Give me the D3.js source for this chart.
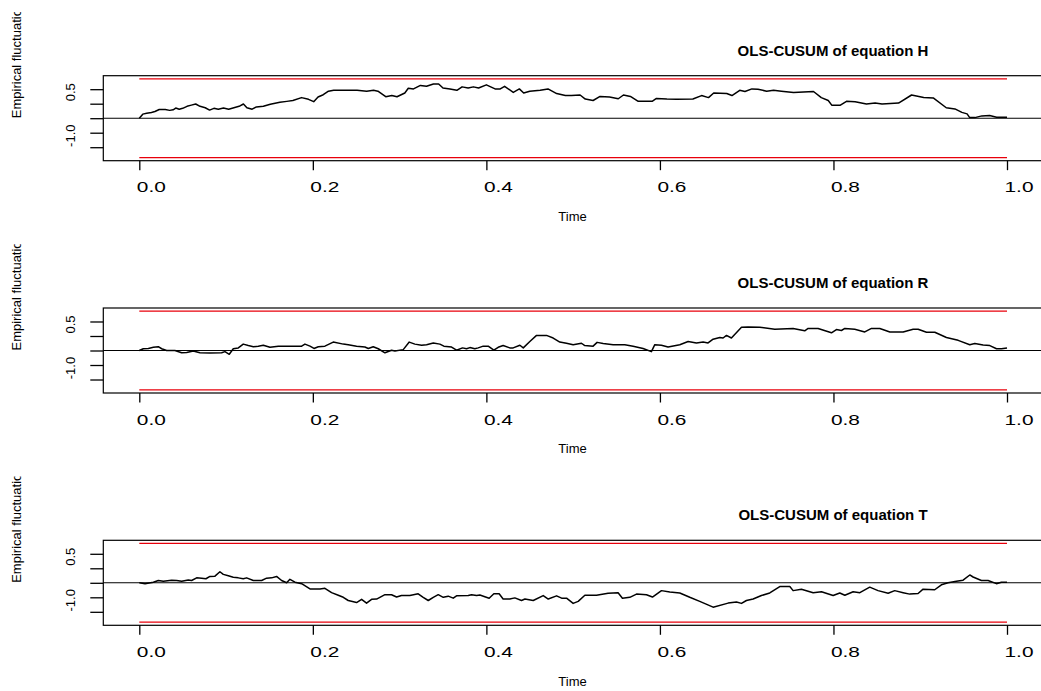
<!DOCTYPE html>
<html>
<head>
<meta charset="utf-8">
<title>OLS-CUSUM of equations H, R, T</title>
<script src="https://d3js.org/d3.v7.min.js"></script>
<style>
  body { margin: 0; background: #fff; }
  svg { display: block; font-family: "Liberation Sans", Arial, sans-serif; }
  .box { fill: none; stroke: #000; stroke-width: 1.2; }
  .bound { stroke: #e8000b; stroke-width: 1.3; }
  .zero { stroke: #000; stroke-width: 1.1; }
  .proc { fill: none; stroke: #000; stroke-width: 1.5; stroke-linejoin: round; }
  .tick line { stroke: #000; stroke-width: 1.3; }
</style>
</head>
<body>
<div id="chart"></div>
<script>
// empirical fluctuation processes (time, value)
const timeH = [0, 0.004, 0.0085, 0.014, 0.018, 0.023, 0.030, 0.035, 0.039, 0.042, 0.046, 0.050, 0.055, 0.060, 0.065, 0.070,
  0.076, 0.081, 0.086, 0.091, 0.097, 0.103, 0.108, 0.115, 0.120, 0.124, 0.130, 0.135, 0.143, 0.151, 0.162, 0.170,
  0.177, 0.187, 0.195, 0.201, 0.206, 0.212, 0.218, 0.224, 0.235, 0.251, 0.262, 0.270, 0.275, 0.284, 0.291, 0.297,
  0.306, 0.310, 0.316, 0.324, 0.331, 0.339, 0.345, 0.350, 0.358, 0.366, 0.372, 0.379, 0.385, 0.391, 0.400, 0.410,
  0.416, 0.421, 0.431, 0.438, 0.443, 0.450, 0.462, 0.471, 0.481, 0.491, 0.498, 0.508, 0.514, 0.523, 0.531, 0.542,
  0.552, 0.558, 0.566, 0.575, 0.591, 0.596, 0.608, 0.619, 0.638, 0.648, 0.656, 0.662, 0.677, 0.683, 0.692, 0.698,
  0.706, 0.713, 0.723, 0.731, 0.740, 0.754, 0.777, 0.786, 0.794, 0.798, 0.808, 0.815, 0.825, 0.838, 0.848, 0.856,
  0.875, 0.890, 0.904, 0.915, 0.930, 0.940, 0.948, 0.954, 0.957, 0.963, 0.971, 0.980, 0.988, 1.0];
const valueH = [0, 0.14, 0.17, 0.20, 0.23, 0.30, 0.30, 0.27, 0.29, 0.35, 0.31, 0.34, 0.41, 0.45, 0.49, 0.41,
  0.36, 0.28, 0.34, 0.31, 0.35, 0.31, 0.35, 0.41, 0.49, 0.36, 0.31, 0.39, 0.41, 0.48, 0.55, 0.58,
  0.61, 0.71, 0.65, 0.57, 0.73, 0.81, 0.93, 0.96, 0.96, 0.96, 0.93, 0.96, 0.93, 0.74, 0.78, 0.74,
  0.87, 1.03, 1.01, 1.13, 1.10, 1.18, 1.18, 1.04, 1.01, 0.96, 1.08, 1.04, 1.08, 1.04, 1.15, 1.01,
  1.01, 1.10, 0.89, 1.01, 0.87, 0.93, 0.96, 1.01, 0.85, 0.78, 0.78, 0.80, 0.66, 0.61, 0.75, 0.73,
  0.67, 0.80, 0.75, 0.58, 0.58, 0.68, 0.66, 0.65, 0.66, 0.78, 0.71, 0.87, 0.85, 0.78, 0.96, 0.92,
  1.01, 1.00, 0.93, 0.96, 0.93, 0.89, 0.92, 0.71, 0.61, 0.45, 0.45, 0.58, 0.57, 0.49, 0.52, 0.49,
  0.52, 0.80, 0.71, 0.70, 0.36, 0.32, 0.20, 0.15, 0.02, 0.02, 0.08, 0.09, 0.03, 0.03];

const timeR = [0, 0.0046, 0.0104, 0.0162, 0.0219, 0.0258, 0.0315, 0.0411, 0.0488, 0.0546, 0.0622, 0.0699, 0.0814,
  0.0949, 0.0987, 0.1037, 0.1083, 0.1141, 0.1198, 0.1256, 0.1314, 0.1371, 0.1429, 0.1506, 0.1602, 0.1736, 0.1871,
  0.1909, 0.1967, 0.2013, 0.2063, 0.2139, 0.2235, 0.2351, 0.2408, 0.2504, 0.2600, 0.2639, 0.2696, 0.2754, 0.2831,
  0.2907, 0.2946, 0.3042, 0.3111, 0.3176, 0.3253, 0.3311, 0.3388, 0.3464, 0.3510, 0.3599, 0.3656, 0.3725, 0.3771,
  0.3810, 0.3867, 0.3906, 0.3963, 0.4021, 0.4086, 0.4136, 0.4193, 0.4270, 0.4309, 0.4386, 0.4425, 0.4501, 0.4578,
  0.4693, 0.4770, 0.4846, 0.4923, 0.5000, 0.5096, 0.5134, 0.5230, 0.5276, 0.5346, 0.5461, 0.5595, 0.5691, 0.5806,
  0.5902, 0.5941, 0.6017, 0.6094, 0.6229, 0.6325, 0.6421, 0.6498, 0.6555, 0.6613, 0.6690, 0.6728, 0.6767, 0.6824,
  0.6940, 0.7016, 0.7151, 0.7324, 0.7535, 0.7669, 0.7708, 0.7823, 0.7977, 0.8034, 0.8092, 0.8131, 0.8246, 0.8361,
  0.8438, 0.8534, 0.8650, 0.8803, 0.8918, 0.8976, 0.9072, 0.9168, 0.9302, 0.9437, 0.9571, 0.9629, 0.9725, 0.9802,
  0.9879, 0.9936, 1.0];
const valueR = [0, 0.06, 0.07, 0.11, 0.13, 0.06, 0, 0, -0.08, -0.07, -0.02, -0.08, -0.09,
  -0.08, -0.04, -0.13, 0.06, 0.09, 0.22, 0.17, 0.13, 0.15, 0.18, 0.11, 0.15, 0.15, 0.15,
  0.22, 0.15, 0.07, 0.13, 0.15, 0.29, 0.22, 0.20, 0.15, 0.12, 0.07, 0.13, 0.06, -0.08,
  0.01, -0.02, 0.03, 0.29, 0.22, 0.18, 0.20, 0.26, 0.22, 0.15, 0.12, 0.01, 0.09, 0.06,
  0.10, 0.06, 0.09, 0.15, 0.15, 0.01, 0.11, 0.17, 0.09, 0.09, 0.18, 0.09, 0.31, 0.52,
  0.52, 0.43, 0.29, 0.25, 0.20, 0.25, 0.17, 0.15, 0.28, 0.24, 0.20, 0.20, 0.15, 0.07,
  -0.04, 0.20, 0.18, 0.12, 0.20, 0.31, 0.26, 0.29, 0.26, 0.39, 0.45, 0.43, 0.52, 0.43,
  0.80, 0.81, 0.80, 0.73, 0.76, 0.68, 0.76, 0.76, 0.61, 0.72, 0.69, 0.76, 0.73, 0.64,
  0.76, 0.76, 0.64, 0.64, 0.73, 0.73, 0.63, 0.63, 0.45, 0.35, 0.20, 0.24, 0.19, 0.17,
  0.06, 0.06, 0.09];

const timeT = [0, 0.0066, 0.0162, 0.0219, 0.0277, 0.0373, 0.0430, 0.0488, 0.0565, 0.0603, 0.0661, 0.0718, 0.0768,
  0.0814, 0.0872, 0.0929, 0.0968, 0.1026, 0.1083, 0.1141, 0.1198, 0.1237, 0.1314, 0.1410, 0.1467, 0.1525, 0.1582,
  0.1640, 0.1698, 0.1736, 0.1794, 0.1871, 0.1967, 0.2082, 0.2139, 0.2216, 0.2293, 0.2351, 0.2408, 0.2504, 0.2562,
  0.2619, 0.2677, 0.2735, 0.2831, 0.2907, 0.2965, 0.3022, 0.3118, 0.3214, 0.3272, 0.3330, 0.3388, 0.3445, 0.3503,
  0.3560, 0.3618, 0.3656, 0.3791, 0.3829, 0.3887, 0.3925, 0.3982, 0.4032, 0.4086, 0.4147, 0.4193, 0.4270, 0.4328,
  0.4405, 0.4444, 0.4540, 0.4655, 0.4713, 0.4809, 0.4867, 0.4924, 0.5000, 0.5058, 0.5135, 0.5269, 0.5403, 0.5518,
  0.5568, 0.5653, 0.5730, 0.5845, 0.5914, 0.6018, 0.6114, 0.6229, 0.6344, 0.6459, 0.6613, 0.6786, 0.6882, 0.6940,
  0.6997, 0.7074, 0.7170, 0.7266, 0.7381, 0.7497, 0.7535, 0.7631, 0.7766, 0.7862, 0.7996, 0.8073, 0.8131, 0.8227,
  0.8304, 0.8418, 0.8514, 0.8630, 0.8706, 0.8803, 0.8879, 0.8975, 0.9033, 0.9167, 0.9244, 0.9321, 0.9417, 0.9494,
  0.9571, 0.9609, 0.9705, 0.9782, 0.9878, 0.9935, 1.0];
const valueT = [0, -0.03, 0.02, 0.08, 0.05, 0.09, 0.08, 0.05, 0.10, 0.08, 0.17, 0.16, 0.14,
  0.22, 0.23, 0.38, 0.29, 0.24, 0.19, 0.17, 0.14, 0.17, 0.08, 0.08, 0.16, 0.17, 0.22,
  0.08, 0.00, 0.12, 0.02, -0.03, -0.21, -0.21, -0.19, -0.34, -0.43, -0.50, -0.61, -0.68, -0.57,
  -0.70, -0.57, -0.56, -0.41, -0.41, -0.49, -0.44, -0.44, -0.38, -0.50, -0.61, -0.50, -0.41, -0.50,
  -0.46, -0.53, -0.45, -0.44, -0.41, -0.44, -0.42, -0.48, -0.53, -0.38, -0.38, -0.56, -0.56, -0.52,
  -0.61, -0.56, -0.61, -0.44, -0.56, -0.45, -0.53, -0.53, -0.71, -0.64, -0.43, -0.43, -0.36, -0.34,
  -0.53, -0.50, -0.39, -0.41, -0.49, -0.27, -0.32, -0.35, -0.50, -0.64, -0.84, -0.70, -0.66, -0.71,
  -0.61, -0.56, -0.44, -0.35, -0.13, -0.13, -0.27, -0.22, -0.34, -0.31, -0.44, -0.35, -0.43, -0.31,
  -0.34, -0.15, -0.27, -0.36, -0.27, -0.34, -0.39, -0.37, -0.22, -0.24, -0.07, 0.00, 0.05, 0.09,
  0.27, 0.20, 0.08, 0.08, -0.03, 0.02, 0.02];

const panelTitles = ["OLS-CUSUM of equation H", "OLS-CUSUM of equation R", "OLS-CUSUM of equation T"];
const panelTimes = [timeH, timeR, timeT];
const panelValues = [valueH, valueR, valueT];

const boundary = 1.358;          // 5% critical value of OLS-CUSUM
const xTicks = [0, 0.2, 0.4, 0.6, 0.8, 1.0];
const xTickLabels = ["0.0", "0.2", "0.4", "0.6", "0.8", "1.0"];
const yTicks = [-1, -0.5, 0, 0.5, 1];
const yLabelAt = [1, -0.5];
const yLabelText = ["0.5", "-1.0"];

const width = 1041, height = 691;
const panelH = 232.3;
const box = {left: 103.3, right: 1041.7, top: 75.7, bottom: 160.7};

const svg = d3.select("#chart").append("svg")
    .attr("width", width)
    .attr("height", height);

const x = d3.scaleLinear().domain([0, 1]).range([139.3, 1007]);
const yHalf = 1.465;

panelTitles.forEach(function(title, i) {
    const g = svg.append("g").attr("transform", "translate(0," + (i * panelH) + ")");
    const y = d3.scaleLinear().domain([-yHalf, yHalf]).range([box.bottom, box.top]);

    // y label is cut off at the top in the original
    g.append("clipPath").attr("id", "ylab" + i)
      .append("rect").attr("x", 0).attr("y", 12).attr("width", 40).attr("height", 200);

    g.append("g")
        .attr("clip-path", "url(#ylab" + i + ")")
      .append("text")
        .attr("transform", "translate(21," + y(0) + ") rotate(-90)")
        .style("font-size", "13px")
        .text("Empirical fluctuation process");

    // boundaries
    g.selectAll(".bound")
      .data([boundary, -boundary])
      .enter().append("line")
        .attr("class", "bound")
        .attr("x1", x(0)).attr("x2", x(1))
        .attr("y1", d => y(d)).attr("y2", d => y(d));

    g.append("line")
        .attr("class", "zero")
        .attr("x1", box.left).attr("x2", box.right)
        .attr("y1", y(0)).attr("y2", y(0));

    const pts = panelTimes[i].map((t, k) => [t, panelValues[i][k]]);
    g.append("path")
        .attr("class", "proc")
        .attr("d", d3.line().x(d => x(d[0])).y(d => y(d[1]))(pts));

    g.append("rect")
        .attr("class", "box")
        .attr("x", box.left).attr("y", box.top)
        .attr("width", box.right - box.left).attr("height", box.bottom - box.top);

    // x axis
    const xa = g.append("g")
        .attr("transform", "translate(0," + box.bottom + ")")
        .call(d3.axisBottom(x).tickValues(xTicks).tickSize(9.5)
              .tickFormat((d, k) => xTickLabels[k]));
    xa.select(".domain").remove();
    xa.selectAll("text")
        .attr("y", 31.5).attr("dy", null)
        .attr("x", -3)
        .attr("text-anchor", "start")
        .attr("textLength", 29).attr("lengthAdjust", "spacingAndGlyphs")
        .style("font-size", "14px")
        .style("font-family", "Liberation Sans, Arial, sans-serif");

    // y axis
    const ya = g.append("g")
        .attr("transform", "translate(" + box.left + ",0)")
        .call(d3.axisLeft(y).tickValues(yTicks).tickSize(13).tickFormat(""));
    ya.select(".domain").remove();

    g.selectAll(".ylab")
      .data(yLabelAt)
      .enter().append("text")
        .attr("class", "ylab")
        .attr("transform", d => "translate(75," + (y(d) + 3) + ") rotate(-90)")
        .attr("text-anchor", "middle")
        .style("font-size", "13px")
        .text((d, k) => yLabelText[k]);

    g.append("text")
        .attr("x", (box.left + box.right) / 2)
        .attr("y", 221)
        .attr("text-anchor", "middle")
        .style("font-size", "13px")
        .text("Time");

    g.append("text")
        .attr("x", 833)
        .attr("y", 55.5)
        .attr("text-anchor", "middle")
        .style("font-size", "15px")
        .style("font-weight", "bold")
        .text(title);
});
</script>
</body>
</html>
